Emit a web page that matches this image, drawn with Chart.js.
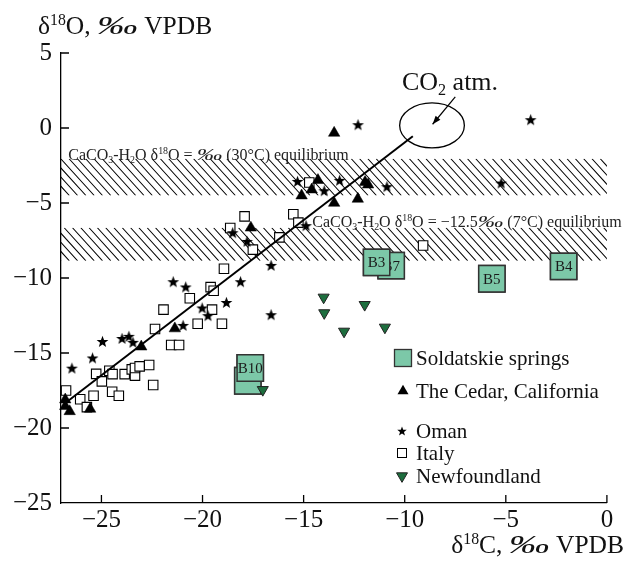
<!DOCTYPE html>
<html>
<head>
<meta charset="utf-8">
<script src="https://cdn.jsdelivr.net/npm/chart.js@4.4.1/dist/chart.umd.min.js"></script>
<style>
html, body { margin: 0; padding: 0; background: #fff; }
#wrap { width: 627px; height: 561px; position: relative; }
</style>
</head>
<body>
<div id="wrap"><canvas id="chart"></canvas></div>
<script>
/* ===== data ===== */
const xTicks = [-25, -20, -15, -10, -5, 0];
const yTicks = [5, 0, -5, -10, -15, -20, -25];

const soldLabels = ['B7', 'B3', 'B5', 'B4', '', 'B10'];
const soldX = [-10.67, -11.39, -5.69, -2.14, -17.76, -17.64];
const soldY = [-9.18, -8.96, -10.05, -9.23, -16.85, -16.0];

const cedarX = [-26.79, -26.79, -26.57, -25.56, -23.03, -21.37, -17.61, -15.1, -14.6, -14.29, -13.49, -13.49, -12.32, -11.96, -11.81];
const cedarY = [-18.11, -18.55, -18.89, -18.73, -14.58, -13.37, -6.65, -4.51, -4.11, -3.48, -0.33, -5.0, -4.73, -3.61, -3.78];

const omanX = [-26.46, -25.44, -24.95, -23.98, -23.64, -23.44, -21.45, -20.83, -20.96, -20.02, -19.73, -18.82, -18.51, -18.12, -17.8, -16.61, -16.61, -14.88, -15.3, -13.98, -13.22, -12.31, -10.88, -5.23, -3.77];
const omanY = [-16.01, -15.33, -14.23, -14.03, -13.89, -14.29, -10.25, -10.6, -13.16, -12.0, -12.51, -11.63, -6.98, -10.25, -7.56, -9.16, -12.45, -6.51, -3.56, -4.18, -3.49, 0.22, -3.91, -3.67, 0.55];

const italyX = [-26.75, -26.05, -25.72, -25.39, -25.26, -24.98, -24.61, -24.45, -24.47, -24.14, -23.85, -23.5, -23.34, -23.34, -23.11, -22.64, -22.44, -22.35, -21.93, -21.55, -21.16, -20.63, -20.24, -19.6, -19.45, -19.53, -19.04, -18.94, -18.63, -17.92, -17.51, -16.2, -15.51, -15.26, -14.72, -9.09];
const italyY = [-17.5, -18.08, -18.61, -17.85, -16.39, -16.89, -16.18, -16.41, -17.58, -17.85, -16.41, -16.09, -16.51, -16.0, -15.89, -15.8, -17.13, -13.4, -12.11, -14.47, -14.47, -11.35, -13.05, -10.61, -10.85, -12.11, -13.05, -9.38, -6.67, -5.89, -8.11, -7.29, -5.75, -6.31, -3.63, -7.83];

const newfX = [-14.01, -13.98, -13.0, -11.98, -10.98, -17.02];
const newfY = [-11.29, -12.33, -13.56, -11.78, -13.29, -17.45];

// regression line end points
const fitX = [-26.8, -9.6];
const fitY = [-18.35, -0.55];

// equilibrium bands (delta18O)
const bandTop = [-2.05, -6.65];
const bandBottom = [-4.5, -8.85];

// CO2 atm. ellipse : centre and half axes, arrow
const co2Center = [-8.65, 0.17];
const co2Radius = [1.6, 1.5];
const arrowFrom = [-7.5, 2.07];
const arrowTo = [-8.62, 0.25];

const legendNames = ['Soldatskie springs', 'The Cedar, California', 'Oman', 'Italy', 'Newfoundland'];

/* ===== helpers ===== */
const SERIF = "'Liberation Serif', 'Times New Roman', serif";
const GREEN = '#7cc8a8';
const DARKGREEN = '#1d6e3e';
const PM = '\u2030';

function zip(xs, ys) { return xs.map((v, i) => ({ x: v, y: ys[i] })); }
function fmt(v) { return v < 0 ? '\u2212' + Math.abs(v) : String(v); }

function starImage(r) {
  const c = document.createElement('canvas');
  const s = Math.ceil(r * 2 + 2);
  c.width = c.height = s;
  const g = c.getContext('2d');
  g.translate(s / 2, s / 2 + r * 0.08);
  g.beginPath();
  for (let i = 0; i < 10; i++) {
    const rr = i % 2 ? r * 0.42 : r;
    const a = -Math.PI / 2 + i * Math.PI / 5;
    g.lineTo(rr * Math.cos(a), rr * Math.sin(a));
  }
  g.closePath();
  g.fillStyle = '#000';
  g.fill();
  return c;
}
const starBig = starImage(6.2);
const starSmall = starImage(5);

// parts: [text, mode, stretch]  mode 1 = superscript, -1 = subscript, 2 = italic
function partFont(p, size) {
  const s = (p[1] === 1 || p[1] === -1) ? size * 0.62 : size;
  return (p[1] === 2 ? 'italic ' : '') + s + 'px ' + SERIF;
}
function richText(ctx, parts, x, y, size, align) {
  let w = 0;
  parts.forEach(p => {
    ctx.font = partFont(p, size);
    w += ctx.measureText(p[0]).width * (p[2] || 1);
  });
  let cx = align === 'right' ? x - w : align === 'center' ? x - w / 2 : x;
  ctx.textAlign = 'left';
  ctx.textBaseline = 'alphabetic';
  parts.forEach(p => {
    ctx.font = partFont(p, size);
    const k = p[2] || 1;
    const dy = p[1] === 1 ? -size * 0.36 : p[1] === -1 ? size * 0.2 : 0;
    ctx.save();
    ctx.translate(cx, y + dy);
    ctx.scale(k, 1);
    ctx.fillText(p[0], 0, 0);
    ctx.restore();
    cx += ctx.measureText(p[0]).width * k;
  });
}

function hatch(ctx, x0, x1, y0, y1, step) {
  const h = y1 - y0;
  const dx = h / 1.1;
  ctx.save();
  ctx.beginPath();
  ctx.rect(x0, y0, x1 - x0, h);
  ctx.clip();
  ctx.beginPath();
  for (let x = x0 - dx; x < x1 + step; x += step) {
    ctx.moveTo(x, y0);
    ctx.lineTo(x + dx, y1);
  }
  ctx.stroke();
  ctx.restore();
}

function triangle(ctx, x, y, w, down, fill, stroke) {
  const h = w * 0.866;
  ctx.beginPath();
  if (down) {
    ctx.moveTo(x - w / 2, y - h / 3);
    ctx.lineTo(x + w / 2, y - h / 3);
    ctx.lineTo(x, y + 2 * h / 3);
  } else {
    ctx.moveTo(x - w / 2, y + h / 3);
    ctx.lineTo(x + w / 2, y + h / 3);
    ctx.lineTo(x, y - 2 * h / 3);
  }
  ctx.closePath();
  ctx.fillStyle = fill;
  ctx.fill();
  if (stroke) { ctx.strokeStyle = stroke; ctx.lineWidth = 1; ctx.stroke(); }
}

/* ===== overlay plugin ===== */
const SOLD_INDEX = 2;
const overlay = {
  id: 'overlay',
  beforeDatasetsDraw(chart) {
    const { ctx, chartArea: a, scales: { x, y } } = chart;
    ctx.save();
    ctx.strokeStyle = '#000';
    ctx.lineWidth = 1.1;
    bandTop.forEach((t, i) => {
      hatch(ctx, a.left, a.right, y.getPixelForValue(t), y.getPixelForValue(bandBottom[i]), 8.3);
    });
    ctx.fillStyle = '#222';
    richText(ctx, [['CaCO'], ['3', -1], ['-H'], ['2', -1], ['O \u03b4'], ['18', 1], ['O = '], [PM, 2, 1.6], [' (30\u00b0C) equilibrium']],
      x.getPixelForValue(-26.64), y.getPixelForValue(bandTop[0]) + 1, 16, 'left');
    richText(ctx, [['CaCO'], ['3', -1], ['-H'], ['2', -1], ['O \u03b4'], ['18', 1], ['O = \u221212.5'], [PM, 2, 1.6], [' (7\u00b0C) equilibrium']],
      x.getPixelForValue(-14.57), y.getPixelForValue(bandTop[1]) - 1, 16, 'left');

    // CO2 atm. ellipse
    const cx = x.getPixelForValue(co2Center[0]);
    const cy = y.getPixelForValue(co2Center[1]);
    const rx = x.getPixelForValue(co2Center[0] + co2Radius[0]) - cx;
    const ry = cy - y.getPixelForValue(co2Center[1] + co2Radius[1]);
    ctx.beginPath();
    ctx.ellipse(cx, cy, rx, ry, 0, 0, Math.PI * 2);
    ctx.lineWidth = 1.3;
    ctx.stroke();
    // arrow
    const ax0 = x.getPixelForValue(arrowFrom[0]), ay0 = y.getPixelForValue(arrowFrom[1]);
    const ax1 = x.getPixelForValue(arrowTo[0]), ay1 = y.getPixelForValue(arrowTo[1]);
    const ang = Math.atan2(ay1 - ay0, ax1 - ax0);
    ctx.beginPath();
    ctx.moveTo(ax0, ay0);
    ctx.lineTo(ax1, ay1);
    ctx.lineWidth = 1.2;
    ctx.stroke();
    ctx.beginPath();
    ctx.moveTo(ax1, ay1);
    ctx.lineTo(ax1 - 9 * Math.cos(ang - 0.35), ay1 - 9 * Math.sin(ang - 0.35));
    ctx.lineTo(ax1 - 9 * Math.cos(ang + 0.35), ay1 - 9 * Math.sin(ang + 0.35));
    ctx.closePath();
    ctx.fillStyle = '#000';
    ctx.fill();
    ctx.fillStyle = '#111';
    richText(ctx, [['CO'], ['2', -1], [' atm.']], cx + 18, 90, 26, 'center');
    ctx.restore();
  },
  afterDatasetDraw(chart, args) {
    if (args.index !== SOLD_INDEX) return;
    const ctx = chart.ctx;
    const meta = chart.getDatasetMeta(SOLD_INDEX);
    ctx.save();
    meta.data.forEach((el, i) => {
      el.draw(ctx, chart.chartArea);
      if (!soldLabels[i]) return;
      ctx.font = '15px ' + SERIF;
      ctx.fillStyle = '#1a1a1a';
      ctx.textAlign = 'center';
      ctx.textBaseline = 'middle';
      ctx.fillText(soldLabels[i], el.x, el.y + 1);
    });
    ctx.restore();
  },
  afterDraw(chart) {
    const { ctx, chartArea: a, scales: { x, y } } = chart;
    ctx.save();
    ctx.strokeStyle = '#000';
    ctx.lineWidth = 1.3;
    ctx.beginPath();
    xTicks.forEach(v => {
      const px = x.getPixelForValue(v);
      ctx.moveTo(px, a.bottom);
      ctx.lineTo(px, a.bottom - 8);
    });
    yTicks.forEach(v => {
      if (v === yTicks[yTicks.length - 1]) return;
      const py = y.getPixelForValue(v);
      ctx.moveTo(a.left, py);
      ctx.lineTo(a.left + 8, py);
    });
    ctx.stroke();

    // axis titles
    ctx.fillStyle = '#111';
    richText(ctx, [['\u03b4'], ['18', 1], ['O, '], [PM, 2, 1.6], [' VPDB']], 38, 34, 25.5, 'left');
    richText(ctx, [['\u03b4'], ['18', 1], ['C, '], [PM, 2, 1.6], [' VPDB']], 624, 553, 25.5, 'right');

    // legend
    const ix = 403, tx = 416;
    const rows = [358, 391, 431, 453, 476];
    ctx.fillStyle = GREEN;
    ctx.fillRect(ix - 8.5, rows[0] - 8.5, 17, 17);
    ctx.strokeStyle = '#333';
    ctx.lineWidth = 1.3;
    ctx.strokeRect(ix - 8.5, rows[0] - 8.5, 17, 17);
    triangle(ctx, ix, rows[1], 11, false, '#000');
    ctx.drawImage(starSmall, ix - 1 - starSmall.width / 2, rows[2] - starSmall.height / 2);
    ctx.fillStyle = '#fff';
    ctx.fillRect(ix - 1 - 4.5, rows[3] - 4.5, 9, 9);
    ctx.strokeStyle = '#000';
    ctx.lineWidth = 1;
    ctx.strokeRect(ix - 1 - 4.5, rows[3] - 4.5, 9, 9);
    triangle(ctx, ix - 1, rows[4], 11, true, DARKGREEN, '#222');
    ctx.fillStyle = '#111';
    ctx.font = '21px ' + SERIF;
    ctx.textAlign = 'left';
    ctx.textBaseline = 'middle';
    legendNames.forEach((n, i) => ctx.fillText(n, tx, rows[i] + 1));
    ctx.restore();
  }
};

/* ===== chart ===== */
Chart.defaults.color = '#000';
Chart.defaults.font.family = SERIF;

new Chart(document.getElementById('chart'), {
  type: 'scatter',
  data: {
    datasets: [
      {
        label: 'fit',
        data: zip(fitX, fitY),
        showLine: true,
        borderColor: '#000',
        borderWidth: 2,
        pointRadius: 0
      },
      {
        label: legendNames[4],
        data: zip(newfX, newfY),
        pointStyle: 'triangle',
        rotation: 180,
        radius: 6.4,
        backgroundColor: DARKGREEN,
        borderColor: '#222',
        borderWidth: 1
      },
      {
        label: legendNames[0],
        data: zip(soldX, soldY),
        pointStyle: 'rect',
        radius: 18.6,
        backgroundColor: GREEN,
        borderColor: '#333',
        borderWidth: 1.5
      },
      {
        label: legendNames[1],
        data: zip(cedarX, cedarY),
        pointStyle: 'triangle',
        radius: 6.6,
        backgroundColor: '#000',
        borderColor: '#000',
        borderWidth: 0.5
      },
      {
        label: legendNames[2],
        data: zip(omanX, omanY),
        pointStyle: starBig,
        radius: 6
      },
      {
        label: legendNames[3],
        data: zip(italyX, italyY),
        pointStyle: 'rect',
        radius: 6.7,
        backgroundColor: '#fff',
        borderColor: '#000',
        borderWidth: 1.1
      }
    ]
  },
  options: {
    responsive: true,
    maintainAspectRatio: false,
    animation: false,
    clip: false,
    layout: { padding: { top: 53, right: 18, left: 0, bottom: 0 } },
    plugins: { legend: { display: false }, tooltip: { enabled: false } },
    elements: { point: { hoverRadius: 0 } },
    scales: {
      x: {
        type: 'linear',
        min: -27,
        max: 0,
        afterBuildTicks: s => { s.ticks = xTicks.map(v => ({ value: v })); },
        afterFit: s => { s.height = 58; },
        grid: { display: false, drawTicks: false },
        border: { color: '#000', width: 1.3 },
        ticks: { callback: v => fmt(v), font: { size: 25, family: SERIF }, padding: 2, maxRotation: 0, color: '#111' }
      },
      y: {
        type: 'linear',
        min: -25,
        max: 5,
        afterBuildTicks: s => { s.ticks = yTicks.map(v => ({ value: v })); },
        afterFit: s => { s.width = 61; },
        grid: { display: false, drawTicks: false },
        border: { color: '#000', width: 1.3 },
        ticks: { callback: v => fmt(v), font: { size: 25, family: SERIF }, padding: 9, color: '#111' }
      }
    }
  },
  plugins: [overlay]
});
</script>
</body>
</html>
